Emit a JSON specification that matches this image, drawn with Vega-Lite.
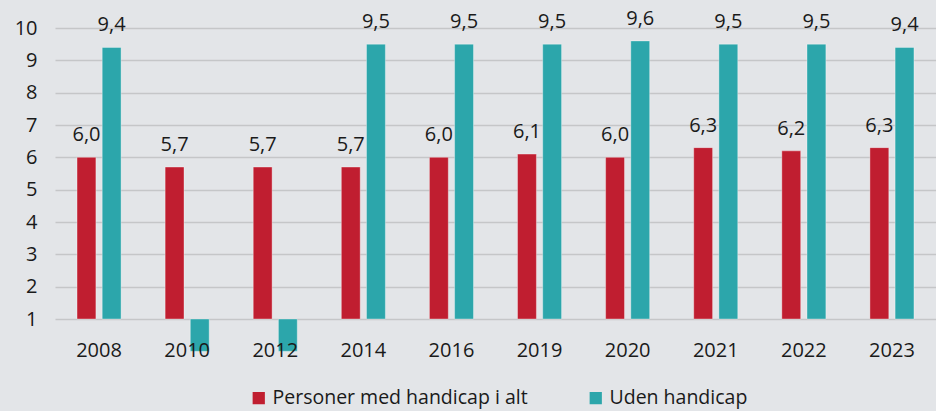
{
  "$schema": "https://vega.github.io/schema/vega-lite/v6.json",
  "width": 881,
  "height": 291,
  "autosize": "none",
  "padding": {"left": 55, "top": 28, "right": 0, "bottom": 92},
  "background": "#e3e5e8",
  "config": {
    "locale": {"number": {"decimal": ",", "thousands": ".", "grouping": [3], "currency": ["", " kr"]}},
    "view": {"stroke": null},
    "font": "Open Sans"
  },
  "data": {
    "values": [
      {"year": "2008", "series": "Personer med handicap i alt", "value": 6.0},
      {"year": "2008", "series": "Uden handicap", "value": 9.4},
      {"year": "2010", "series": "Personer med handicap i alt", "value": 5.7},
      {"year": "2010", "series": "Uden handicap", "value": 0},
      {"year": "2012", "series": "Personer med handicap i alt", "value": 5.7},
      {"year": "2012", "series": "Uden handicap", "value": 0},
      {"year": "2014", "series": "Personer med handicap i alt", "value": 5.7},
      {"year": "2014", "series": "Uden handicap", "value": 9.5},
      {"year": "2016", "series": "Personer med handicap i alt", "value": 6.0},
      {"year": "2016", "series": "Uden handicap", "value": 9.5},
      {"year": "2019", "series": "Personer med handicap i alt", "value": 6.1},
      {"year": "2019", "series": "Uden handicap", "value": 9.5},
      {"year": "2020", "series": "Personer med handicap i alt", "value": 6.0},
      {"year": "2020", "series": "Uden handicap", "value": 9.6},
      {"year": "2021", "series": "Personer med handicap i alt", "value": 6.3},
      {"year": "2021", "series": "Uden handicap", "value": 9.5},
      {"year": "2022", "series": "Personer med handicap i alt", "value": 6.2},
      {"year": "2022", "series": "Uden handicap", "value": 9.5},
      {"year": "2023", "series": "Personer med handicap i alt", "value": 6.3},
      {"year": "2023", "series": "Uden handicap", "value": 9.4}
    ]
  },
  "encoding": {
    "x": {
      "field": "year", "type": "nominal",
      "scale": {"paddingInner": 0.5, "paddingOuter": 0.25},
      "axis": {"title": null, "labelAngle": 0, "domain": false, "ticks": false, "labelFontSize": 20, "labelColor": "#1a1a1a", "labelPadding": 21, "labelFont": "Open Sans", "zindex": 1}
    },
    "xOffset": {"field": "series", "type": "nominal", "scale": {"paddingInner": 0.25, "paddingOuter": 0}},
    "y": {
      "field": "value", "type": "quantitative",
      "scale": {"domain": [1, 10], "zero": false, "nice": false},
      "axis": {"title": null, "values": [1,2,3,4,5,6,7,8,9,10], "domain": false, "ticks": false, "labelFontSize": 20, "labelColor": "#1a1a1a", "labelPadding": 18, "gridColor": "#c5c6c8", "gridWidth": 1.5, "labelFont": "Open Sans"}
    }
  },
  "layer": [
    {
      "mark": {"type": "bar", "clip": false, "strokeWidth": 1, "strokeOpacity": 0.35, "stroke": "#ffffff"},
      "encoding": {
        "y2": {"datum": 1},
        "color": {
          "field": "series", "type": "nominal",
          "scale": {"domain": ["Personer med handicap i alt", "Uden handicap"], "range": ["#c01e30", "#2ca6ab"]},
          "legend": {"title": null, "orient": "none", "legendX": 194, "legendY": 360, "direction": "horizontal", "symbolType": "square", "symbolSize": 150, "symbolStrokeWidth": 0, "labelFontSize": 19.5, "labelColor": "#1a1a1a", "labelLimit": 400, "columnPadding": 58, "labelFont": "Open Sans"}
        }
      }
    },
    {
      "transform": [{"filter": "datum.value > 0"}],
      "mark": {"type": "text", "baseline": "alphabetic", "dy": -16, "fontSize": 20, "color": "#1a1a1a", "font": "Open Sans"},
      "encoding": {
        "text": {"field": "value", "type": "quantitative", "format": ".1f"}
      }
    }
  ]
}
